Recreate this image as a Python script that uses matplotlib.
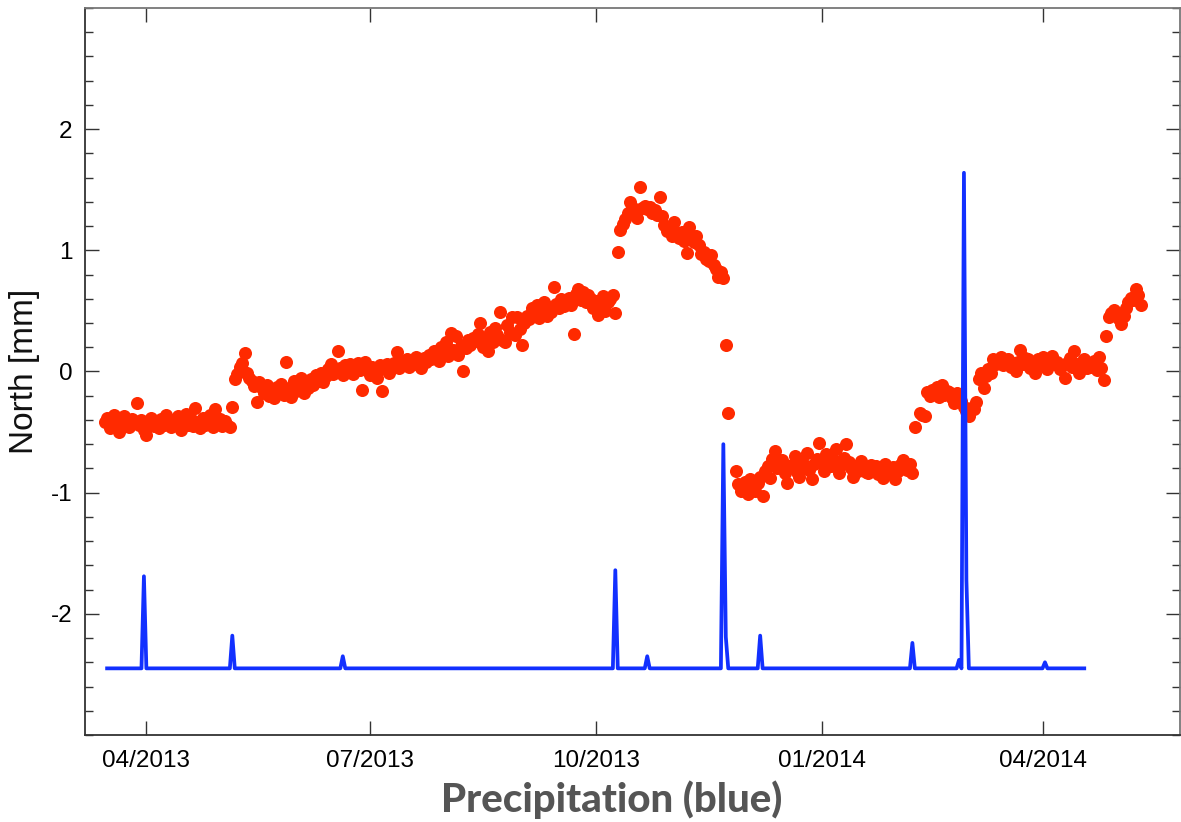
import numpy as np
import pandas as pd
import matplotlib
matplotlib.use('Agg')
import matplotlib.pyplot as plt
import matplotlib.dates as mdates
from matplotlib.ticker import MultipleLocator

# North component [mm], daily solutions, one list per run of days without gaps
north_a_start = '2013-03-15'
north_a = [-0.42, -0.38, -0.47, -0.40, -0.36, -0.44, -0.50, -0.41, -0.37, -0.43,
           -0.46, -0.39, -0.42, -0.26, -0.44, -0.40, -0.48, -0.52, -0.43, -0.38,
           -0.45, -0.41, -0.47, -0.39, -0.44, -0.36, -0.42, -0.46, -0.40, -0.43,
           -0.37, -0.48, -0.41, -0.35, -0.44, -0.39, -0.45, -0.30, -0.42, -0.47,
           -0.38, -0.44, -0.40, -0.36, -0.46, -0.31, -0.43, -0.39, -0.45, -0.41,
           -0.44, -0.46, -0.29]

north_b_start = '2013-05-07'
north_b = [-0.06, -0.02, 0.04, 0.07, 0.15, -0.01, -0.05, -0.08, -0.12, -0.25,
           -0.09, -0.14, -0.18, -0.11, -0.20, -0.15, -0.22, -0.13, -0.17, -0.10,
           -0.19, 0.08, -0.14, -0.21, -0.08, -0.16, -0.12, -0.05, -0.18, -0.10,
           -0.14, -0.06, -0.11, -0.03, -0.08, -0.01, -0.09, -0.04, 0.02, 0.06,
           -0.02, 0.01, 0.17, 0.03, -0.03, 0.05, 0.00, 0.06, -0.02, 0.03,
           0.07, 0.01, -0.15, 0.08, 0.02, -0.03, 0.04, 0.00, -0.05, 0.05,
           -0.16, 0.02, 0.06, -0.01, 0.04, 0.07, 0.16, 0.03, 0.08, 0.05,
           0.10, 0.04, 0.09, 0.06, 0.12, 0.07, 0.03, 0.11, 0.08, 0.14,
           0.10, 0.17, 0.12, 0.09, 0.20, 0.15, 0.24, 0.13, 0.32, 0.18,
           0.29, 0.14, 0.21, 0.00, 0.19, 0.26, 0.22, 0.28, 0.25, 0.31,
           0.40, 0.20, 0.27, 0.17, 0.33, 0.24, 0.36, 0.30, 0.49, 0.26,
           0.24, 0.38, 0.33, 0.45, 0.30, 0.45, 0.35, 0.22, 0.40, 0.46,
           0.43, 0.52, 0.48, 0.55, 0.44, 0.50, 0.57, 0.46, 0.53, 0.49,
           0.70, 0.56, 0.52, 0.60, 0.54, 0.58, 0.61, 0.55, 0.31, 0.64,
           0.68, 0.59, 0.66, 0.57, 0.63, 0.60, 0.52, 0.58, 0.47, 0.55,
           0.62, 0.50, 0.57, 0.60, 0.63, 0.48]

north_c_start = '2013-10-10'
north_c = [0.99, 1.17, 1.22, 1.26, 1.31, 1.40, 1.36, 1.33, 1.27, 1.52,
           1.35, 1.37, 1.34, 1.36, 1.31, 1.33, 1.29, 1.44, 1.28, 1.21,
           1.16, 1.19, 1.12, 1.23, 1.14, 1.10, 1.15, 1.08, 0.98, 1.19,
           1.11, 1.07, 1.12, 1.04, 0.97, 0.99, 0.93, 0.91, 0.96, 0.88,
           0.85, 0.78, 0.82, 0.77, 0.22, -0.34]

north_d_start = '2013-11-27'
north_d = [-0.82, -0.93, -0.99, -0.97, -0.91, -1.01, -0.89, -0.95, -0.99, -0.92,
           -0.87, -1.03, -0.82, -0.78, -0.88, -0.72, -0.66, -0.80, -0.76, -0.73,
           -0.84, -0.92, -0.79, -0.77, -0.70, -0.83, -0.87, -0.74, -0.79, -0.67,
           -0.81, -0.89, -0.76, -0.72, -0.59, -0.75, -0.82, -0.68, -0.70, -0.78,
           -0.73, -0.64, -0.84, -0.77, -0.71, -0.60, -0.75, -0.80, -0.87, -0.78,
           -0.82, -0.74, -0.79, -0.83, -0.84, -0.77, -0.81, -0.78, -0.85, -0.80,
           -0.88, -0.76, -0.81, -0.84, -0.79, -0.89, -0.82, -0.77, -0.73, -0.80,
           -0.81, -0.76, -0.84, -0.46]

north_e_start = '2014-02-10'
north_e = [-0.34, -0.36, -0.37, -0.17, -0.20, -0.15, -0.18, -0.13, -0.21, -0.11,
           -0.19, -0.16, -0.17, -0.22, -0.26, -0.18, -0.20, -0.24, -0.29, -0.33,
           -0.37, -0.30, -0.31, -0.25, -0.06, -0.01, -0.14, -0.04, 0.02, -0.01,
           0.10, 0.06, 0.08, 0.12, 0.05, 0.09, 0.10, 0.04, 0.07, 0.00,
           0.08, 0.18, 0.06, 0.11, 0.10, 0.03, 0.08, -0.01, 0.10, 0.05,
           0.12, 0.07, 0.02, 0.09, 0.13, 0.06, 0.08, 0.02, 0.05, -0.05,
           0.07, 0.11, 0.04, 0.17, 0.06, -0.01, 0.08, 0.10, 0.03, 0.07,
           0.04, 0.09, 0.01, 0.12, 0.03, -0.07, 0.29, 0.45, 0.48, 0.51,
           0.47, 0.43, 0.39, 0.46, 0.52, 0.57, 0.61, 0.59, 0.68, 0.63, 0.55]

# Precipitation (scaled, drawn on the same axis), daily; flat baseline with rain days
precip_start = '2013-03-16'
precip_end = '2014-04-18'
precip_base = -2.45
rain_days = ['2013-03-31', '2013-05-06', '2013-06-20', '2013-10-09', '2013-10-22',
             '2013-11-22', '2013-11-23', '2013-12-07', '2014-02-07', '2014-02-26',
             '2014-02-28', '2014-03-01', '2014-04-02']
rain_vals = [-1.69, -2.18, -2.35, -1.64, -2.35,
             -0.60, -2.19, -2.18, -2.24, -2.38,
             1.64, -1.72, -2.40]

RED = '#ff2a00'
BLUE = '#1230ff'

plt.rcParams['axes.unicode_minus'] = False

north = pd.concat([
    pd.Series(v, index=pd.date_range(s, periods=len(v), freq='D'))
    for s, v in [(north_a_start, north_a), (north_b_start, north_b),
                 (north_c_start, north_c), (north_d_start, north_d),
                 (north_e_start, north_e)]
])

precip = pd.Series(precip_base, index=pd.date_range(precip_start, precip_end, freq='D'))
precip[pd.to_datetime(rain_days)] = rain_vals

fig = plt.figure(figsize=(11.81, 8.22), dpi=100)
ax = fig.add_axes([85 / 1181, 1 - 735 / 822, (1180 - 85) / 1181, (735 - 8) / 822])

ax.plot(north.index, north.values, 'o', ms=9.4, color=RED, mec='none', zorder=2)
ax.plot(precip.index, precip.values, '-', lw=2.7, color=BLUE, zorder=3)

ax.set_xlim(pd.Timestamp('2013-03-07'), pd.Timestamp('2014-05-27'))
ax.set_ylim(-3, 3)

ax.xaxis.set_major_locator(mdates.MonthLocator(bymonth=[1, 4, 7, 10]))
ax.xaxis.set_major_formatter(mdates.DateFormatter('%m/%Y'))
ax.set_yticks([-2, -1, 0, 1, 2])
ax.yaxis.set_minor_locator(MultipleLocator(0.2))

ax.tick_params(which='both', direction='in', top=True, right=True,
               color='#333333', width=1.0, labelsize=17.5)
ax.tick_params(which='major', length=10)
ax.tick_params(which='minor', length=6)
ax.tick_params(axis='x', pad=11)
ax.tick_params(axis='y', pad=9)
for lab in ax.get_xticklabels() + ax.get_yticklabels():
    lab.set_family('Liberation Sans')

for side in ['left', 'bottom']:
    ax.spines[side].set_color('#333333')
    ax.spines[side].set_linewidth(1.3)
for side in ['top', 'right']:
    ax.spines[side].set_color('#777777')
    ax.spines[side].set_linewidth(1.3)

fig.text(25 / 1181, 1 - 371 / 822, 'North [mm]', rotation=90, ha='center', va='center',
         fontsize=24, family='Liberation Sans', color='#111111')

fig.text(612 / 1181, 1 - 800 / 822, 'Precipitation (blue)', ha='center', va='center',
         fontsize=29, fontweight='black', family='Lato', color='#555555')

fig.savefig('out.png', dpi=100)
